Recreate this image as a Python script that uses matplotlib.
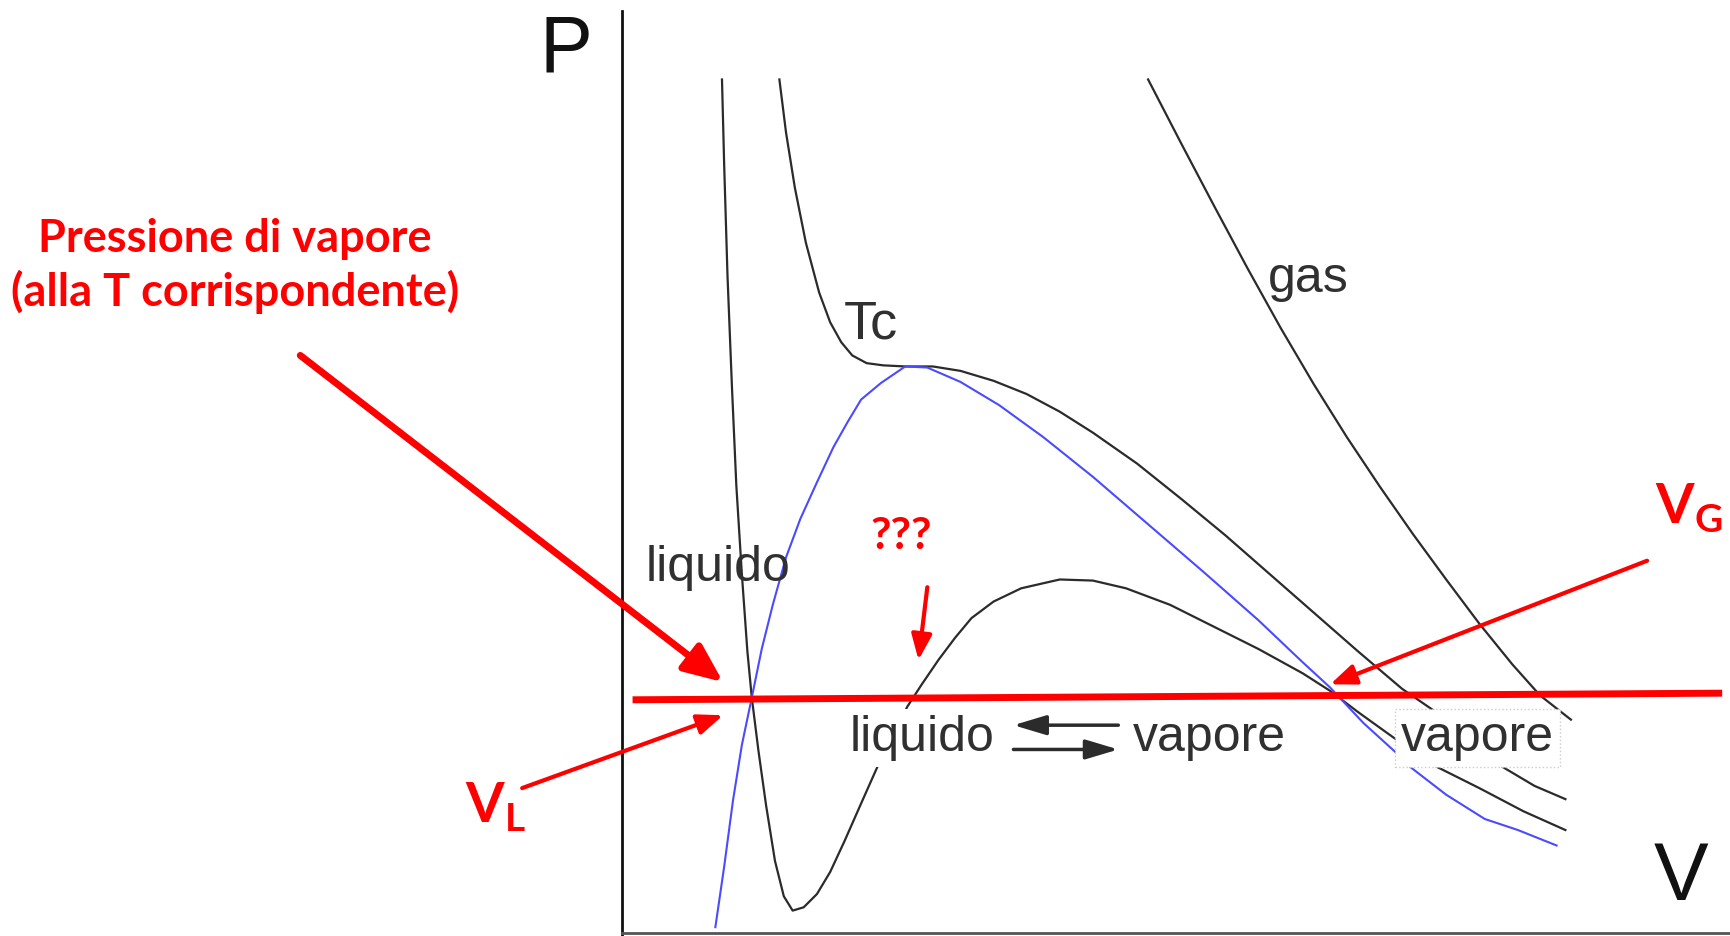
import matplotlib.pyplot as plt

plt.rcParams['mathtext.fontset'] = 'custom'
plt.rcParams['mathtext.bf'] = 'Lato:bold'
plt.rcParams['mathtext.rm'] = 'Lato:bold'

# isoterma sotto Tc (loop di van der Waals)
iso_v = [0.91, 0.93, 0.96, 1.00, 1.04, 1.09, 1.14, 1.18, 1.24, 1.31,
         1.39, 1.47, 1.55, 1.65, 1.77, 1.89, 2.02, 2.17, 2.33, 2.59,
         2.72, 2.87, 3.02, 3.17, 3.37, 3.62, 3.97, 4.27, 4.57, 4.97,
         5.37, 5.77, 6.17, 6.42, 6.67, 6.99, 7.35, 7.77, 8.17, 8.55]
iso_p = [7.73, 6.95, 5.95, 4.95, 4.05, 3.25, 2.55, 2.13, 1.65, 1.15,
         0.65, 0.33, 0.20, 0.23, 0.35, 0.55, 0.83, 1.17, 1.53, 2.05,
         2.25, 2.47, 2.67, 2.85, 3.00, 3.12, 3.20, 3.19, 3.12, 2.97,
         2.77, 2.57, 2.35, 2.19, 2.00, 1.77, 1.52, 1.31, 1.10, 0.93]

# isoterma critica Tc
tc_v = [1.43, 1.49, 1.57, 1.67, 1.79, 1.89, 1.99, 2.09, 2.22, 2.37,
        2.57, 2.82, 3.07, 3.37, 3.67, 3.97, 4.27, 4.67, 5.07, 5.47,
        5.87, 6.27, 6.67, 7.07, 7.39, 7.95, 8.27, 8.55]
tc_p = [7.73, 7.25, 6.75, 6.25, 5.80, 5.53, 5.35, 5.23, 5.16, 5.14,
        5.13, 5.13, 5.09, 5.00, 4.88, 4.72, 4.53, 4.25, 3.93, 3.60,
        3.25, 2.90, 2.55, 2.21, 1.99, 1.52, 1.33, 1.21]

# curva di coesistenza (blu)
dome_v = [0.85, 0.93, 1.01, 1.09, 1.18, 1.27, 1.37, 1.49, 1.62, 1.77,
          1.92, 2.05, 2.17, 2.35, 2.57, 2.77, 3.07, 3.42, 3.82, 4.27,
          4.77, 5.27, 5.77, 6.17, 6.42, 6.72, 7.05, 7.12, 7.47, 7.82,
          8.12, 8.47]
dome_p = [0.05, 0.60, 1.20, 1.70, 2.13, 2.57, 2.97, 3.40, 3.75, 4.08,
          4.40, 4.63, 4.83, 4.98, 5.13, 5.12, 4.99, 4.78, 4.49, 4.13,
          3.70, 3.27, 2.83, 2.45, 2.22, 1.90, 1.60, 1.52, 1.25, 1.03,
          0.93, 0.79]

# isoterma gas (alta T)
gas_v = [4.77, 5.07, 5.37, 5.67, 5.97, 6.27, 6.57, 6.87, 7.17, 7.47,
         7.77, 8.07, 8.32, 8.60]
gas_p = [7.73, 7.15, 6.58, 6.02, 5.48, 4.97, 4.49, 4.04, 3.61, 3.20,
         2.80, 2.43, 2.15, 1.93]

# pressione di vapore
psat_v = [0.10, 9.97]
psat_p = [2.11, 2.17]

black = '#2b2b2b'
grey_txt = '#303030'
red = '#ff0000'

fig = plt.figure(figsize=(17.31, 9.36), dpi=100)
ax = fig.add_axes([0, 0, 1, 1])
ax.set_xlim(-5.63, 10.05)
ax.set_ylim(-0.03, 8.45)
ax.axis('off')

# assi P e V
ax.plot([0, 0], [-0.03, 8.35], color='#111111', lw=2.0, zorder=2)
ax.plot([0, 10.05], [0, 0], color='#555555', lw=2.0, zorder=2)
ax.text(-0.50, 7.80, 'P', fontsize=57, family='Liberation Sans', color='#111111',
        ha='center', va='baseline')
ax.text(9.60, 0.30, 'V', fontsize=59, family='Liberation Sans', color='#111111',
        ha='center', va='baseline')

# isoterme
ax.plot(iso_v, iso_p, color=black, lw=1.6, zorder=2)
ax.plot(tc_v, tc_p, color=black, lw=1.6, zorder=2)
ax.plot(gas_v, gas_p, color=black, lw=1.6, zorder=2)
ax.plot(dome_v, dome_p, color='#4a4aff', lw=1.5, zorder=2)

# etichette grigie
lab = dict(family='Liberation Sans', color=grey_txt, ha='center', va='baseline')
ax.text(2.26, 5.38, 'Tc', fontsize=39, **lab)
ax.text(6.22, 5.80, 'gas', fontsize=36, **lab)
ax.text(0.87, 3.19, 'liquido', fontsize=36, zorder=3, **lab)
ax.text(2.72, 1.65, 'liquido', fontsize=36, zorder=3,
        bbox=dict(boxstyle='square,pad=0.12', fc='white', ec='none'), **lab)
ax.text(5.32, 1.65, 'vapore', fontsize=36, zorder=3, **lab)
ax.text(7.75, 1.65, 'vapore', fontsize=36, zorder=3,
        bbox=dict(boxstyle='square,pad=0.12', fc='white', ec='#cccccc', ls=':', lw=1), **lab)

# frecce di equilibrio
eq = dict(arrowstyle='-|>,head_length=1.0,head_width=0.3', color=black,
          lw=2.5, mutation_scale=20, shrinkA=0, shrinkB=0)
ax.annotate('', xy=(3.55, 1.88), xytext=(4.50, 1.88), arrowprops=eq, zorder=3)
ax.annotate('', xy=(4.50, 1.66), xytext=(3.55, 1.66), arrowprops=eq, zorder=3)

# linea della pressione di vapore
ax.plot(psat_v, psat_p, color=red, lw=5, zorder=5, solid_capstyle='butt')

# frecce rosse
ax.annotate('', xy=(0.92, 2.27), xytext=(-2.91, 5.23),
            arrowprops=dict(arrowstyle='-|>,head_length=0.65,head_width=0.28', color=red,
                            lw=5, mutation_scale=36, shrinkA=0, shrinkB=0), zorder=5)
thin = dict(arrowstyle='-|>,head_length=0.7,head_width=0.28', color=red,
            lw=3, mutation_scale=22, shrinkA=0, shrinkB=0)
ax.annotate('', xy=(0.92, 1.97), xytext=(-0.90, 1.31), arrowprops=thin, zorder=5)
ax.annotate('', xy=(2.69, 2.47), xytext=(2.77, 3.13), arrowprops=thin, zorder=5)
ax.annotate('', xy=(6.42, 2.25), xytext=(9.29, 3.37), arrowprops=thin, zorder=5)

# testi rossi
rt = dict(family='Lato', fontweight='bold', color=red, va='baseline', zorder=6)
ax.text(-3.50, 6.17, 'Pressione di vapore', fontsize=32.5, ha='center', **rt)
ax.text(-3.50, 5.68, '(alla T corrispondente)', fontsize=32.5, ha='center', **rt)
ax.text(2.53, 3.48, '???', fontsize=32, ha='center', **rt)
ax.text(9.36, 3.71, r'$\mathbf{V}_{\mathbf{G}}$', fontsize=40, ha='left', **rt)
ax.text(-1.42, 1.00, r'$\mathbf{V}_{\mathbf{L}}$', fontsize=40, ha='left', **rt)

fig.savefig('out.png', dpi=100)
